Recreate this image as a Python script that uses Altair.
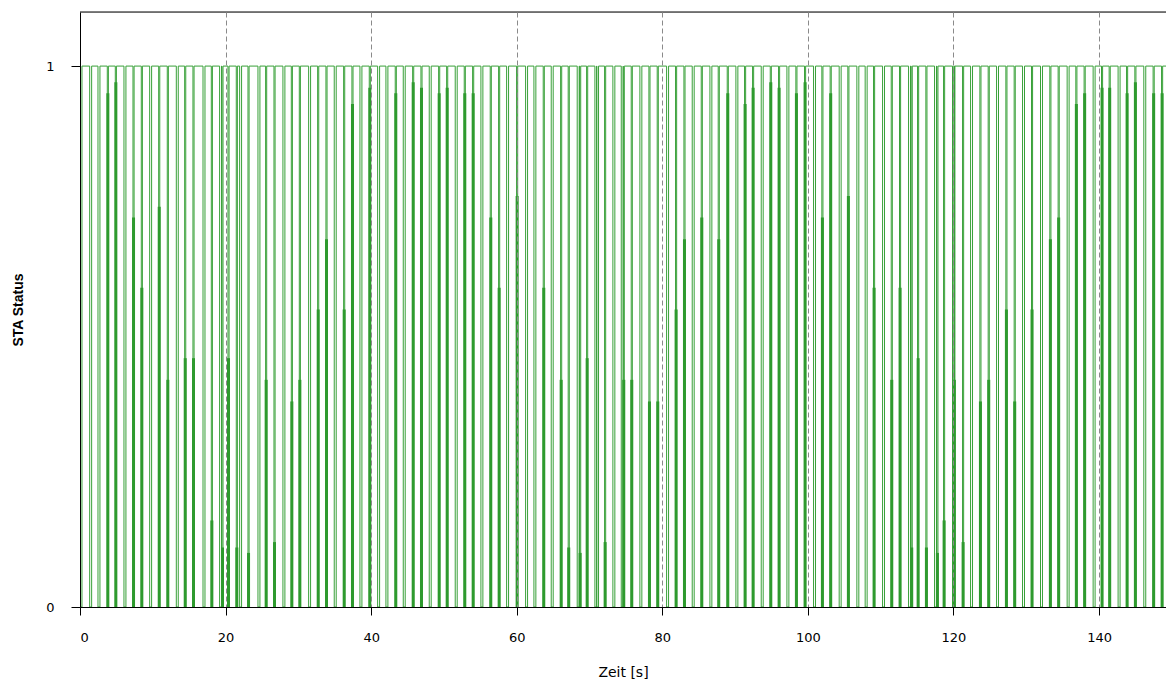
import altair as alt
import pandas as pd

# Pulse positions of the STA status signal [s]
pulse_t = [
    0.27, 1.33, 2.47, 3.75, 4.85, 6.04, 7.28, 8.42, 9.57, 10.81, 11.99, 13.23,
    14.38, 15.52, 16.90, 18.04, 19.18, 19.50, 20.33, 21.47, 21.93, 23.08, 24.45,
    25.50, 26.65, 27.88, 29.03,
    30.13, 31.41, 32.65, 33.79, 34.93, 36.22, 37.36, 38.46, 39.74, 40.89, 42.03,
    43.31, 44.41, 45.70, 46.84, 47.98, 49.27, 50.37, 51.55, 52.79, 53.94, 55.08,
    56.36, 57.51, 58.61,
    59.98, 61.22, 62.36, 63.64, 64.74, 66.03, 67.07, 68.31, 68.64, 69.60, 70.74,
    70.97, 72.07, 73.21, 74.36, 74.63, 75.73, 76.92, 78.16, 79.30, 80.59, 81.82,
    82.97, 84.11, 85.35, 86.54, 87.68, 88.92,
    90.11, 91.30, 92.40, 93.59, 94.83, 95.97, 97.12, 98.35, 99.54, 100.78, 101.92,
    103.06, 104.30, 105.49, 106.73, 107.87, 109.02, 110.26, 111.45, 112.59, 113.83,
    114.19, 115.07, 116.21, 117.40, 117.72, 118.64,
    119.87, 120.05, 121.25, 122.35, 123.63, 124.77, 125.92, 127.20, 128.34, 129.49,
    130.72, 131.96, 133.24, 134.38, 135.62, 136.81, 137.95, 139.19, 140.34, 141.39,
    142.62, 143.78, 144.92, 146.15, 147.43, 148.59,
]

# Height up to which the falling and rising edge of each pulse merge (0 = apart)
pulse_h = [
    0, 0, 0, 0.95, 0.97, 0, 0.72, 0.59, 0, 0.74, 0.42, 0,
    0.46, 0.46, 0, 0.16, 0, 0.11, 0.46, 0.11, 0, 0.10, 0,
    0.42, 0.12, 0, 0.38,
    0.42, 0, 0.55, 0.68, 0, 0.55, 0.93, 0, 0.96, 0, 0,
    0.95, 0, 0.97, 0.96, 0, 0.95, 0.96, 0, 0.95, 0.95, 0,
    0.72, 0.59, 0,
    0.76, 0, 0, 0.59, 0, 0.42, 0.11, 0, 0.10, 0.46, 0,
    0, 0.12, 0, 0, 0.42, 0.42, 0, 0.38, 0.38, 0, 0.55,
    0.68, 0, 0.72, 0, 0.68, 0.95,
    0, 0.93, 0.96, 0, 0.97, 0.96, 0, 0.95, 0.97, 0, 0.72,
    0.95, 0, 0.76, 0, 0, 0.59, 0, 0.42, 0.59, 0,
    0.11, 0.46, 0.11, 0, 0.10, 0.16,
    0, 0.42, 0.12, 0, 0.38, 0.42, 0, 0.55, 0.38, 0,
    0.55, 0, 0.68, 0.72, 0, 0.93, 0.95, 0, 0.96, 0.96,
    0, 0.95, 0.97, 0, 0.95, 0.95,
]

# Time the signal stays low during a pulse [s]
LOW_WIDE = 0.27
LOW_NARROW = 0.15

x_ticks = [0, 20, 40, 60, 80, 100, 120, 140]
y_ticks = [0, 1]
x_max = 149.2

GREEN = "#38a038"
GREEN_DARK = "#2e9a2e"
W, H = 1086, 595

# Signal trace: starts low, rises at the first edge, then drops to zero
# for a short moment at every following pulse
sig_t, sig_v = [0.0, pulse_t[0], pulse_t[0]], [0, 0, 1]
widths = [LOW_NARROW if h > 0 else LOW_WIDE for h in pulse_h]
for t, w in zip(pulse_t[1:], widths[1:]):
    sig_t += [t, t, t + w, t + w]
    sig_v += [1, 0, 0, 1]
sig_t.append(x_max)
sig_v.append(1)
signal = pd.DataFrame({"t": sig_t, "v": sig_v, "i": range(len(sig_t))})

dense = pd.DataFrame({"t": pulse_t, "h": pulse_h, "w": widths})
dense = dense[dense["h"] > 0].copy()
dense["tc"] = dense["t"] + dense["w"] / 2
dense["y0"] = 0.0

x_scale = alt.Scale(domain=[0, x_max], nice=False, zero=False)
y_scale = alt.Scale(domain=[0, 1.1], nice=False)

x_axis = alt.Axis(
    values=x_ticks, format="d", title="Zeit [s]", grid=True, gridDash=[5, 3],
    gridColor="#8a8a8a", gridWidth=1, tickSize=8, tickColor="black",
    domainColor="black", labelFont="DejaVu Sans", labelFontSize=13,
    labelColor="black", labelPadding=16, titleFont="DejaVu Sans",
    titleFontSize=14, titleFontWeight="normal", titleColor="black",
    titlePadding=21, zindex=1,
)
y_axis = alt.Axis(
    values=y_ticks, format="d", title="STA Status", grid=False, tickSize=9,
    tickColor="black", domainColor="black", labelFont="DejaVu Sans",
    labelFontSize=13, labelColor="black", labelPadding=17,
    titleFont="Liberation Sans", titleFontSize=14, titleFontWeight="bold",
    titleColor="black", titlePadding=20, zindex=1,
)

trace = alt.Chart(signal).mark_line(color=GREEN, strokeWidth=1, interpolate="linear").encode(
    x=alt.X("t:Q", scale=x_scale, axis=x_axis),
    y=alt.Y("v:Q", scale=y_scale, axis=y_axis),
    order="i:Q",
)

merged = alt.Chart(dense).mark_rule(color=GREEN_DARK, strokeWidth=3).encode(
    x=alt.X("tc:Q", scale=x_scale),
    y=alt.Y("y0:Q", scale=y_scale),
    y2="h:Q",
)

top_border = alt.Chart(pd.DataFrame({"a": [0]})).mark_rule(color="black", strokeWidth=1).encode(
    x=alt.value(0), x2=alt.value(W), y=alt.value(0)
)

chart = alt.layer(trace, merged, top_border).properties(
    width=W, height=H,
    autosize=alt.AutoSizeParams(type="none"),
    padding={"left": 80, "top": 12, "right": 0, "bottom": 88},
).configure_view(stroke=None).configure(background="white")

chart.save("out.html", embed_options={"renderer": "svg", "actions": False})
